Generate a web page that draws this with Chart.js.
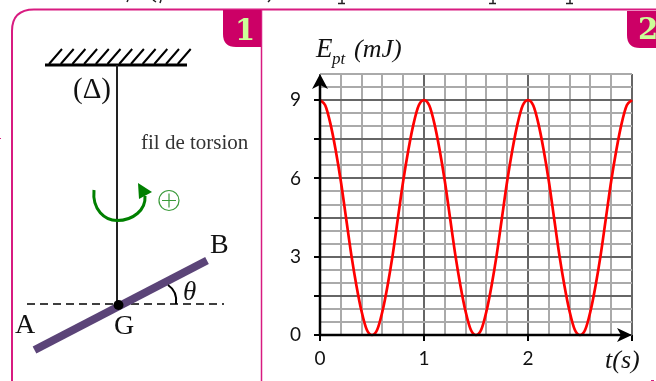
<!DOCTYPE html>
<html>
<head>
<meta charset="utf-8">
<title>Energie potentielle de torsion</title>
<script src="https://cdn.jsdelivr.net/npm/chart.js@4"></script>
<style>
html, body { margin: 0; padding: 0; background: #fff; overflow: hidden; }
#wrap { position: relative; width: 656px; height: 381px; }
#chart, #figure { position: absolute; left: 0; top: 0; }
#figure text { font-family: "Liberation Serif", serif; fill: #111; }
</style>
</head>
<body>
<div id="wrap">
<canvas id="chart" width="656" height="381"></canvas>
<svg id="figure" width="656" height="381" viewBox="0 0 656 381">
  <!-- cut off line of text above the frame -->
  <g stroke="#222" stroke-width="1.5">
    <path d="M342 0V3M338 3.5h7M493 0V3M489 3.5h7M570 0V3M566 3.5h7M128 0l-1 2M153 0l3 2M161 0l-1 3M270 0l-2 2"/>
  </g>
  <!-- frame -->
  <path d="M12 381V31Q12 9.5 34 9.5H656" fill="none" stroke="#d81b80" stroke-width="2"/>
  <path d="M261.5 10V381" fill="none" stroke="#d81b80" stroke-width="1.5"/>
  <path d="M223 10H261V47H236Q223 47 223 34Z" fill="#cc0066"/>
  <path d="M627 11H656V48H640Q627 48 627 35Z" fill="#cc0066"/>
  <text x="245" y="40" text-anchor="middle" font-size="29" font-weight="bold" style="font-family:'DejaVu Serif',serif;fill:#ccff99">1</text>
  <text x="648" y="39" text-anchor="middle" font-size="29" font-weight="bold" style="font-family:'DejaVu Serif',serif;fill:#ccff99">2</text>
  <!-- support -->
  <path d="M45 65H187" stroke="#000" stroke-width="3"/>
  <path id="hatch" stroke="#000" stroke-width="2" fill="none"/>
  <path d="M117 65V304" stroke="#222" stroke-width="2"/>
  <text x="92" y="98" text-anchor="middle" font-size="29">(Δ)</text>
  <text x="141" y="149" font-size="21" style="fill:#333">fil de torsion</text>
  <!-- rotation sense -->
  <path d="M94 190C92 210 105 220.500 117 220.500C133 220.500 146 210 145 196" fill="none" stroke="#008000" stroke-width="3"/>
  <path d="M138 183L152 192L139 199Z" fill="#008000"/>
  <circle cx="169" cy="200.500" r="10" fill="none" stroke="#3a9a3a" stroke-width="1.2"/>
  <path d="M162 200.500H176M169 193.500V207.500" stroke="#3a9a3a" stroke-width="1.2"/>
  <!-- rod -->
  <path d="M27 304H224" stroke="#000" stroke-width="1.5" stroke-dasharray="8 5"/>
  <path d="M34.500 350L207 260.500" stroke="#5b4478" stroke-width="8"/>
  <circle cx="118.500" cy="305" r="5" fill="#000"/>
  <path d="M168 285C174 289 177 296 176 304" fill="none" stroke="#000" stroke-width="2"/>
  <text x="15" y="333" font-size="28">A</text>
  <text x="114" y="334" font-size="28">G</text>
  <text x="210" y="253" font-size="28">B</text>
  <text x="183" y="300" font-size="27" font-style="italic">θ</text>
  <!-- axis names -->
  <text x="316" y="57" font-size="27" font-style="italic">E</text>
  <text x="332" y="64" font-size="17" font-style="italic">pt</text>
  <text x="354" y="57" font-size="26" font-style="italic">(mJ)</text>
  <text x="605" y="368" font-size="26" font-style="italic">t(s)</text>
  <!-- stray marks at the page edge -->
  <path d="M0 138.500H1M651 380.500H654" stroke="#d81b80" stroke-width="1"/>
</svg>
</div>
<script>
// values, every 0.05 s
var times = [
  0, 0.05, 0.1, 0.15, 0.2, 0.25, 0.3, 0.35, 0.4, 0.45,
  0.5, 0.55, 0.6, 0.65, 0.7, 0.75, 0.8, 0.85, 0.9, 0.95,
  1, 1.05, 1.1, 1.15, 1.2, 1.25, 1.3, 1.35, 1.4, 1.45,
  1.5, 1.55, 1.6, 1.65, 1.7, 1.75, 1.8, 1.85, 1.9, 1.95,
  2, 2.05, 2.1, 2.15, 2.2, 2.25, 2.3, 2.35, 2.4, 2.45,
  2.5, 2.55, 2.6, 2.65, 2.7, 2.75, 2.8, 2.85, 2.9, 2.95, 3
];
var energy = [
  9, 8.8, 8.1, 7.1, 5.9, 4.5, 3.1, 1.9, 0.9, 0.2,
  0, 0.2, 0.9, 1.9, 3.1, 4.5, 5.9, 7.1, 8.1, 8.8,
  9, 8.8, 8.1, 7.1, 5.9, 4.5, 3.1, 1.9, 0.9, 0.2,
  0, 0.2, 0.9, 1.9, 3.1, 4.5, 5.9, 7.1, 8.1, 8.8,
  9, 8.8, 8.1, 7.1, 5.9, 4.5, 3.1, 1.9, 0.9, 0.2,
  0, 0.2, 0.9, 1.9, 3.1, 4.5, 5.9, 7.1, 8.1, 8.8, 9
];
var xLabels = [0, 1, 2];
var yLabels = [0, 3, 6, 9];

// ceiling hatching
var hatch = '';
for (var i = 0; i < 12; i++) {
  var hx = 49 + i * 11.7;
  hatch += 'M' + hx + ' 64L' + (hx + 13) + ' 49';
}
document.getElementById('hatch').setAttribute('d', hatch);

var gridMinor = '#aaaaaa', gridMajor = '#666666';

function near(a, b) { return Math.abs(a - b) < 1e-6; }
function xMajor(v) { return near(v, Math.round(v)); }
function yMajor(v) { return near(v / 1.5, Math.round(v / 1.5)) && v < 9.5; }

// black axes with their arrow heads
var axesPlugin = {
  id: 'axes',
  afterDatasetsDraw: function(chart) {
    var c = chart.ctx, a = chart.chartArea;
    var ox = chart.scales.x.getPixelForValue(0), oy = chart.scales.y.getPixelForValue(0);
    c.save();
    c.strokeStyle = '#000';
    c.fillStyle = '#000';
    c.lineWidth = 2.5;
    c.beginPath();
    c.moveTo(ox, oy + 1);
    c.lineTo(ox, a.top + 8);
    c.moveTo(ox, oy);
    c.lineTo(a.right - 8, oy);
    c.stroke();
    c.beginPath();
    c.moveTo(ox, a.top);
    c.lineTo(ox + 8, a.top + 15);
    c.lineTo(ox, a.top + 11);
    c.lineTo(ox - 8, a.top + 15);
    c.closePath();
    c.fill();
    c.beginPath();
    c.moveTo(a.right, oy);
    c.lineTo(a.right - 15, oy - 7);
    c.lineTo(a.right - 11, oy);
    c.lineTo(a.right - 15, oy + 7);
    c.closePath();
    c.fill();
    c.restore();
  }
};

new Chart(document.getElementById('chart'), {
  type: 'line',
  data: {
    datasets: [{
      label: 'Ept',
      data: times.map(function(t, i) { return { x: t, y: energy[i] }; }),
      borderColor: '#ff0000',
      borderWidth: 2.7,
      pointRadius: 0,
      cubicInterpolationMode: 'monotone',
      clip: false
    }]
  },
  options: {
    responsive: false,
    animation: false,
    layout: { padding: { top: 74, right: 24 } },
    plugins: { legend: { display: false }, tooltip: { enabled: false }, title: { display: false } },
    scales: {
      x: {
        type: 'linear',
        min: 0,
        max: 3,
        afterFit: function(s) { s.height = 46; },
        border: { display: false },
        grid: {
          lineWidth: 2,
          color: function(ctx) { return xMajor(ctx.tick.value) ? gridMajor : gridMinor; },
          tickLength: 6,
          tickWidth: 2,
          tickColor: function(ctx) { return xMajor(ctx.tick.value) ? '#000' : 'rgba(0,0,0,0)'; }
        },
        ticks: {
          stepSize: 0.2,
          autoSkip: false,
          maxRotation: 0,
          padding: 6,
          color: '#111',
          font: { family: 'Lato', size: 19 },
          callback: function(v) { return xLabels.indexOf(v) >= 0 ? String(v) : ''; }
        }
      },
      y: {
        min: 0,
        max: 10,
        afterFit: function(s) { s.width = 320; },
        border: { display: false },
        grid: {
          lineWidth: 2,
          color: function(ctx) { return yMajor(ctx.tick.value) ? gridMajor : gridMinor; },
          tickLength: 6,
          tickWidth: 2,
          tickColor: function(ctx) { return yMajor(ctx.tick.value) ? '#000' : 'rgba(0,0,0,0)'; }
        },
        ticks: {
          stepSize: 0.5,
          autoSkip: false,
          padding: 13,
          color: '#111',
          font: { family: 'Lato', size: 19 },
          callback: function(v) { return yLabels.indexOf(v) >= 0 ? String(v) : ''; }
        }
      }
    }
  },
  plugins: [axesPlugin]
});
</script>
</body>
</html>
